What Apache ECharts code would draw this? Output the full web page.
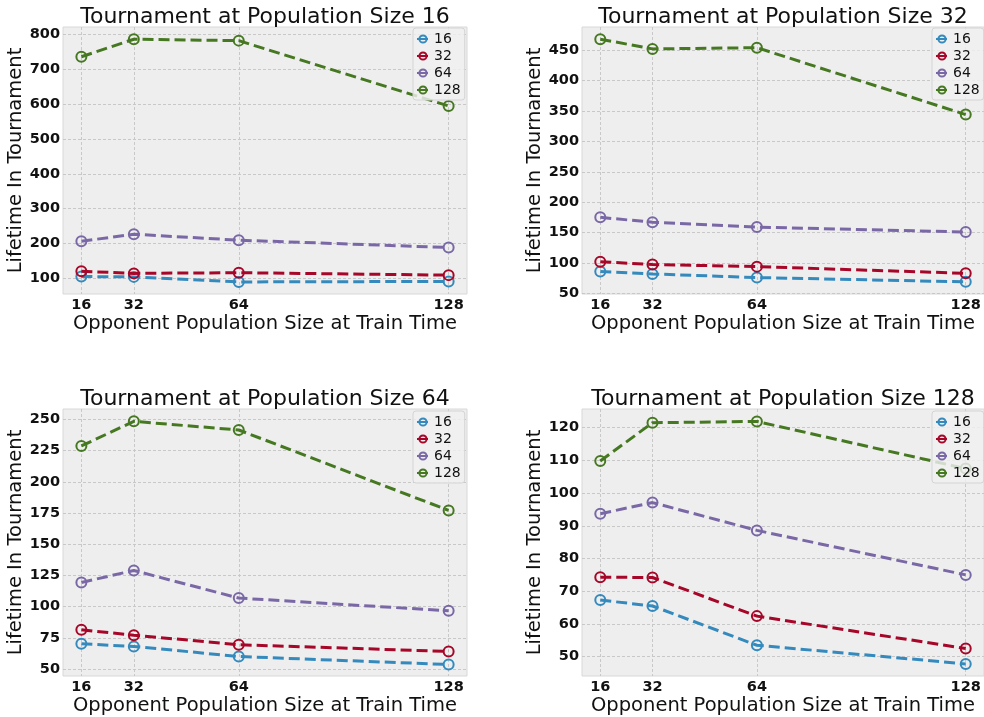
<!DOCTYPE html>
<html>
<head>
<meta charset="utf-8">
<script src="https://cdn.jsdelivr.net/npm/echarts@6/dist/echarts.min.js"></script>
<style>
html,body{margin:0;padding:0;background:#ffffff;}
#chart{width:984px;height:717px;}
</style>
</head>
<body>
<div id="chart"></div>
<script>
// ---- data ----
const trainSizes = [16, 32, 64, 128];            // x values (opponent population size at train time)
const seriesNames = ['16', '32', '64', '128'];    // legend names
const panelTitles = [
  'Tournament at Population Size 16',
  'Tournament at Population Size 32',
  'Tournament at Population Size 64',
  'Tournament at Population Size 128'
];
// lifetime values, one row per series (16, 32, 64, 128)
const lifetimePop16 = [
  [106, 105, 90.5, 92],
  [121, 115, 117, 110],
  [207, 227, 210, 189],
  [735, 785, 781, 594]
];
const lifetimePop32 = [
  [86, 82, 76, 69],
  [102, 97.5, 94, 83],
  [175, 167, 159, 151],
  [468, 452, 454, 344]
];
const lifetimePop64 = [
  [70.3, 68.2, 60.1, 53.7],
  [81.5, 77.2, 69.5, 64.2],
  [119.4, 129, 106.9, 96.7],
  [228.7, 248.4, 241.5, 177.1]
];
const lifetimePop128 = [
  [67.3, 65.5, 53.5, 47.8],
  [74.3, 74.2, 62.4, 52.5],
  [93.7, 97.1, 88.6, 75.0],
  [109.8, 121.5, 121.9, 107.5]
];
const yTicksPop16 = [100, 200, 300, 400, 500, 600, 700, 800];
const yTicksPop32 = [50, 100, 150, 200, 250, 300, 350, 400, 450];
const yTicksPop64 = [50, 75, 100, 125, 150, 175, 200, 225, 250];
const yTicksPop128 = [50, 60, 70, 80, 90, 100, 110, 120];
const xAxisName = 'Opponent Population Size at Train Time';
const yAxisName = 'Lifetime In Tournament';

// ---- layout / style ----
const colors = ['#348ABD', '#A60628', '#7A68A6', '#467821'];
const FONT = 'DejaVu Sans';
const panels = [
  {data: lifetimePop16, yTicks: yTicksPop16, yMin: 56, yMax: 820,
   grid: {left: 63, top: 27, width: 404, height: 267}, legend: {left: 413, top: 28}, titleX: 265, titleY: 6},
  {data: lifetimePop32, yTicks: yTicksPop32, yMin: 49, yMax: 488,
   grid: {left: 582, top: 27, width: 402, height: 267}, legend: {left: 932, top: 28}, titleX: 783, titleY: 6},
  {data: lifetimePop64, yTicks: yTicksPop64, yMin: 44.5, yMax: 258.3,
   grid: {left: 63, top: 409, width: 404, height: 267}, legend: {left: 413, top: 411}, titleX: 265, titleY: 388},
  {data: lifetimePop128, yTicks: yTicksPop128, yMin: 44.1, yMax: 125.7,
   grid: {left: 582, top: 409, width: 402, height: 267}, legend: {left: 932, top: 411}, titleX: 783, titleY: 388}
];

const splitStyle = {show: true, lineStyle: {color: '#c8c8c8', type: [3, 2], width: 1}};
const option = {
  backgroundColor: '#ffffff',
  animation: false,
  title: [], grid: [], xAxis: [], yAxis: [], legend: [], series: []
};

panels.forEach((p, i) => {
  option.title.push({
    text: panelTitles[i], left: p.titleX, top: p.titleY, textAlign: 'center', padding: 0,
    textStyle: {fontFamily: FONT, fontSize: 22, fontWeight: 'normal', color: '#111'}
  });
  option.grid.push(Object.assign({show: true, backgroundColor: '#eeeeee', borderColor: '#d8d8d8', borderWidth: 1}, p.grid));
  option.xAxis.push({
    gridIndex: i, type: 'value', min: 10.4, max: 133.6,
    name: xAxisName, nameLocation: 'middle', nameGap: 17,
    nameTextStyle: {fontFamily: FONT, fontSize: 19.5, color: '#111', verticalAlign: 'top'},
    axisLine: {show: false},
    axisTick: {show: false, customValues: trainSizes},
    axisLabel: {customValues: trainSizes, margin: 4, fontFamily: FONT, fontSize: 14.5, fontWeight: 'bold', color: '#111'},
    splitLine: splitStyle
  });
  option.yAxis.push({
    gridIndex: i, type: 'value', min: p.yMin, max: p.yMax,
    name: yAxisName, nameLocation: 'middle', nameGap: 31,
    nameTextStyle: {fontFamily: FONT, fontSize: 19.5, color: '#111'},
    axisLine: {show: false},
    axisTick: {show: false, customValues: p.yTicks},
    axisLabel: {customValues: p.yTicks, margin: 3, fontFamily: FONT, fontSize: 14.5, fontWeight: 'bold', color: '#111'},
    splitLine: splitStyle
  });
  option.legend.push({
    data: seriesNames, orient: 'vertical', left: p.legend.left, top: p.legend.top, z: 20,
    padding: [4, 4, 3, 3], itemGap: 3, itemWidth: 12, itemHeight: 9,
    backgroundColor: 'rgba(240,240,240,0.82)', borderColor: '#d4d4d4', borderWidth: 1, borderRadius: 3,
    textStyle: {fontFamily: FONT, fontSize: 14, color: '#111'}
  });
  p.data.forEach((vals, s) => {
    option.series.push({
      name: seriesNames[s], type: 'line', xAxisIndex: i, yAxisIndex: i,
      data: trainSizes.map((x, k) => [x, vals[k]]),
      symbol: 'circle', symbolSize: 10,
      lineStyle: {color: colors[s], width: 3, type: [11, 5]},
      itemStyle: {color: 'rgba(0,0,0,0)', borderColor: colors[s], borderWidth: 2},
      z: 2 + s
    });
  });
});

const chart = echarts.init(document.getElementById('chart'), null, {renderer: 'canvas'});
chart.setOption(option);
</script>
</body>
</html>
